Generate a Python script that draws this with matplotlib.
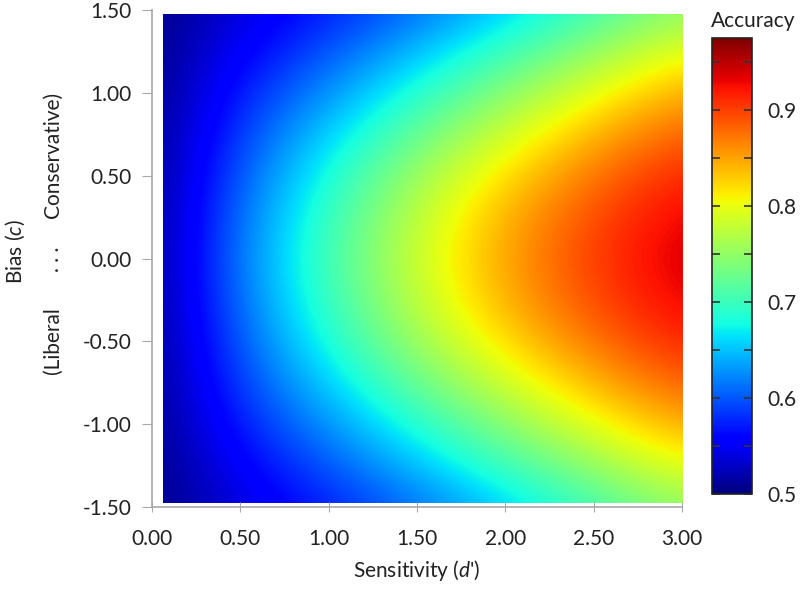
"""
Accuracy surface over sensitivity (d') and bias (c), drawn as a jet heatmap
with a colourbar on the right.
"""

import numpy as np
import matplotlib
matplotlib.use("Agg")
import matplotlib.pyplot as plt
from matplotlib.patches import Rectangle

plt.rcParams["font.family"] = ["Lato", "DejaVu Sans"]
plt.rcParams["mathtext.fontset"] = "custom"
plt.rcParams["mathtext.rm"] = "Lato"
plt.rcParams["mathtext.it"] = "Lato:italic"

# grid: columns = d', rows = c (bottom to top)
d_prime = [0.0, 0.5, 1.0, 1.5, 2.0, 2.5, 3.0]
bias = [-1.5, -1.25, -1.0, -0.75, -0.5, -0.25, 0.0,
        0.25, 0.5, 0.75, 1.0, 1.25, 1.5]
accuracy = [
    [0.500, 0.540, 0.573, 0.611, 0.656, 0.703, 0.753],
    [0.500, 0.555, 0.600, 0.649, 0.701, 0.752, 0.803],
    [0.500, 0.573, 0.629, 0.688, 0.746, 0.799, 0.848],
    [0.500, 0.590, 0.658, 0.726, 0.787, 0.841, 0.887],
    [0.500, 0.604, 0.683, 0.757, 0.821, 0.874, 0.916],
    [0.500, 0.615, 0.699, 0.777, 0.844, 0.895, 0.934],
    [0.500, 0.620, 0.705, 0.785, 0.850, 0.903, 0.940],
    [0.500, 0.615, 0.699, 0.777, 0.844, 0.895, 0.934],
    [0.500, 0.604, 0.683, 0.757, 0.821, 0.874, 0.916],
    [0.500, 0.590, 0.658, 0.726, 0.787, 0.841, 0.887],
    [0.500, 0.573, 0.629, 0.688, 0.746, 0.799, 0.848],
    [0.500, 0.555, 0.600, 0.649, 0.701, 0.752, 0.803],
    [0.500, 0.540, 0.573, 0.611, 0.656, 0.703, 0.753],
]

x_ticks = [0.0, 0.5, 1.0, 1.5, 2.0, 2.5, 3.0]
x_labels = ["0.00", "0.50", "1.00", "1.50", "2.00", "2.50", "3.00"]
y_ticks = [-1.5, -1.0, -0.5, 0.0, 0.5, 1.0, 1.5]
y_labels = ["-1.50", "-1.00", "-0.50", "0.00", "0.50", "1.00", "1.50"]
cbar_ticks = [0.5, 0.6, 0.7, 0.8, 0.9]
cbar_minor = [0.55, 0.65, 0.75, 0.85, 0.95]

TEXT = "#222222"
SPINE = "#a8a8a8"
FS = 15

fig = plt.figure(figsize=(8, 5.97), dpi=100)
ax = fig.add_axes([0.19, 0.1508, 0.6625, 0.8324])

acc = np.array(accuracy)
hd = (d_prime[1] - d_prime[0]) / 2
hc = (bias[1] - bias[0]) / 2
im = ax.imshow(
    acc, origin="lower", cmap="jet", vmin=0.5, vmax=0.975,
    interpolation="bicubic", aspect="auto",
    extent=(d_prime[0] - hd, d_prime[-1] + hd, bias[0] - hc, bias[-1] + hc),
)
# coloured area sits slightly inside the axis frame
clip = Rectangle((0.06, -1.475), 2.94, 2.95, transform=ax.transData,
                 facecolor="none", edgecolor="none")
ax.add_patch(clip)
im.set_clip_path(clip)

ax.set_xlim(0, 3)
ax.set_ylim(-1.5, 1.5)
ax.set_xticks(x_ticks)
ax.set_xticklabels(x_labels)
ax.set_yticks(y_ticks)
ax.set_yticklabels(y_labels)
ax.tick_params(axis="x", direction="inout", length=7, color=SPINE,
               labelsize=FS, labelcolor=TEXT, pad=12)
ax.tick_params(axis="y", direction="out", length=7, color=SPINE,
               labelsize=FS, labelcolor=TEXT, pad=8)
for side in ["top", "right"]:
    ax.spines[side].set_visible(False)
for side in ["left", "bottom"]:
    ax.spines[side].set_color(SPINE)
    ax.spines[side].set_linewidth(1.2)

ax.set_xlabel("Sensitivity ($d$')", fontsize=FS, color=TEXT, labelpad=7)

# two-line y label built from separate pieces
fig.text(0.019, 0.578, "Bias ($c$)", rotation=90, fontsize=FS, color=TEXT,
         ha="center", va="center")
fig.text(0.066, 0.429, "(Liberal", rotation=90, fontsize=FS, color=TEXT,
         ha="center", va="center")
fig.text(0.066, 0.566, ". . .", rotation=90, fontsize=FS, color=TEXT,
         ha="center", va="center")
fig.text(0.066, 0.740, "Conservative)", rotation=90, fontsize=FS, color=TEXT,
         ha="center", va="center")

# colourbar
cax = fig.add_axes([0.89, 0.1725, 0.05, 0.7638])
cbar = fig.colorbar(im, cax=cax)
cbar.set_ticks(cbar_ticks)
cbar.set_ticklabels(["0.5", "0.6", "0.7", "0.8", "0.9"])
cax.set_yticks(cbar_minor, minor=True)
cax.tick_params(which="both", direction="in", left=True, right=True,
                length=6, width=1.2, color="#333333")
cax.tick_params(which="major", labelsize=FS, labelcolor=TEXT, pad=11)
cbar.outline.set_edgecolor("#222222")
cbar.outline.set_linewidth(1.2)
fig.text(0.889, 0.965, "Accuracy", fontsize=FS, color=TEXT,
         ha="left", va="center")

fig.savefig("out.png", dpi=100)
